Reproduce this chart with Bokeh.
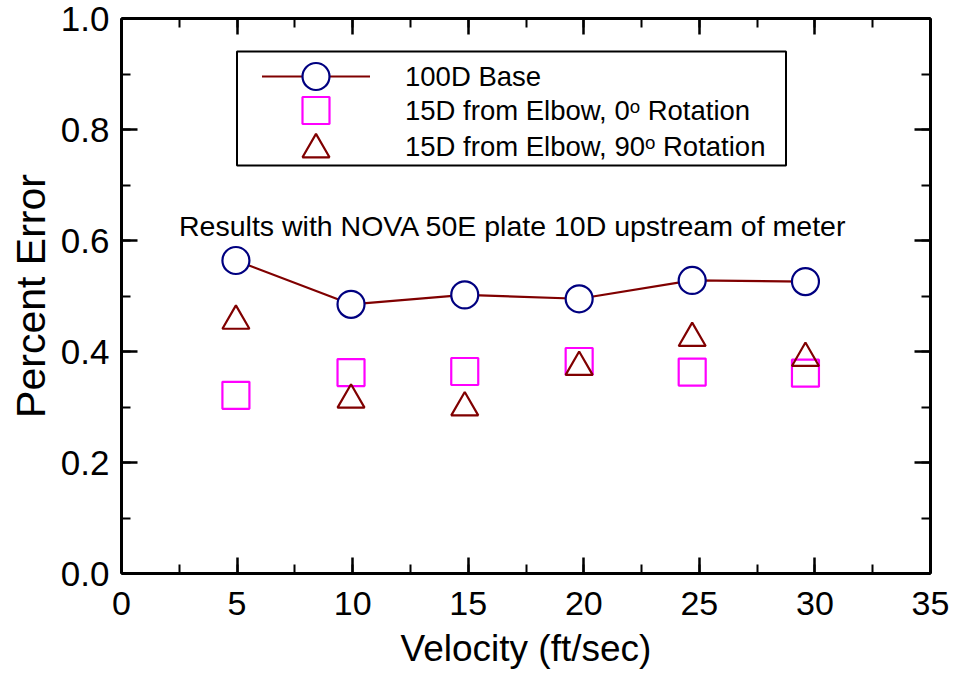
from bokeh.plotting import figure
from bokeh.models import (Range1d, LinearAxis, SingleIntervalTicker,
                          NumeralTickFormatter, CustomJSTickFormatter)
from bokeh.embed import file_html
from bokeh.resources import INLINE
from bokeh.core.properties import value

# ---- data ----
velocity = [4.95, 9.93, 14.85, 19.8, 24.69, 29.59]
base_100d = [0.564, 0.485, 0.502, 0.495, 0.528, 0.526]
elbow_0deg = [0.321, 0.362, 0.364, 0.382, 0.363, 0.361]
elbow_90deg = [0.455, 0.313, 0.299, 0.372, 0.424, 0.388]

series_labels = ["100D Base",
                 "15D from Elbow, 0\u1d52 Rotation",
                 "15D from Elbow, 90\u1d52 Rotation"]
note_text = "Results with NOVA 50E plate 10D upstream of meter"
x_title = "Velocity (ft/sec)"
y_title = "Percent Error"

FONT = "Liberation Sans"
NAVY = "#000080"
MAROON = "#800000"
MAGENTA = "#FF00FF"

FW, FH = 809, 555  # frame size in px

p = figure(width=956, height=681, output_backend="svg", toolbar_location=None,
           x_range=Range1d(0, 35), y_range=Range1d(0, 1),
           x_axis_type=None, y_axis_type=None,
           min_border_left=121, min_border_right=26,
           min_border_top=18, min_border_bottom=108)
p.outline_line_color = None
p.background_fill_color = "white"
p.border_fill_color = "white"
p.extra_x_ranges = {"px": Range1d(0, FW)}
p.extra_y_ranges = {"py": Range1d(FH, 0)}

blank = CustomJSTickFormatter(code="return '';")


def style_axis(ax, show_labels):
    ax.axis_line_width = 3
    ax.axis_line_color = "black"
    ax.major_tick_in = 16
    ax.major_tick_out = 0
    ax.minor_tick_in = 9
    ax.minor_tick_out = 0
    ax.major_tick_line_width = 2.5
    ax.minor_tick_line_width = 2
    ax.major_label_text_font = FONT
    ax.major_label_text_color = "black"
    ax.axis_label_text_font = FONT
    ax.axis_label_text_font_style = "normal"
    ax.axis_label_text_color = "black"
    if not show_labels:
        ax.major_label_standoff = 0


xb = LinearAxis(ticker=SingleIntervalTicker(interval=5, num_minor_ticks=2),
                formatter=NumeralTickFormatter(format="0"))
style_axis(xb, True)
xb.major_label_text_font_size = "34px"
xb.major_label_standoff = 18
xb.axis_label = x_title
xb.axis_label_text_font_size = "37px"
xb.axis_label_standoff = 10
p.add_layout(xb, "below")

xt = LinearAxis(ticker=SingleIntervalTicker(interval=5, num_minor_ticks=2),
                formatter=blank)
style_axis(xt, False)
p.add_layout(xt, "above")

yl = LinearAxis(ticker=SingleIntervalTicker(interval=0.2, num_minor_ticks=2),
                formatter=NumeralTickFormatter(format="0.0"))
style_axis(yl, True)
yl.major_label_text_font_size = "35px"
yl.major_label_standoff = 12
yl.axis_label = y_title
yl.axis_label_text_font_size = "41px"
yl.axis_label_standoff = 4
p.add_layout(yl, "left")

yr = LinearAxis(ticker=SingleIntervalTicker(interval=0.2, num_minor_ticks=2),
                formatter=blank)
style_axis(yr, False)
p.add_layout(yr, "right")

# ---- data marks ----
p.line(velocity, base_100d, line_color=MAROON, line_width=2.2)
p.scatter(velocity, base_100d, marker="circle", size=27, line_color=NAVY,
          line_width=2.2, fill_color="white")
p.scatter(velocity, elbow_0deg, marker="square", size=27, line_color=MAGENTA,
          line_width=2.2, fill_color=None)
p.scatter(velocity, elbow_90deg, marker="triangle", size=27, line_color=MAROON,
          line_width=2.2, fill_color=None)

# ---- legend (frame pixel coordinates) ----
leg_box = dict(left=115.5, right=664.5, top=33, bottom=147)
leg_rows = [58, 92, 128]
leg_glyph_x = 194.5
leg_line = [140.5, 248.5]
leg_text_x = 283.5

p.quad(left=[leg_box["left"]], right=[leg_box["right"]], top=[leg_box["top"]],
       bottom=[leg_box["bottom"]], fill_color="white", line_color="black",
       line_width=2, x_range_name="px", y_range_name="py")
p.line(leg_line, [leg_rows[0], leg_rows[0]], line_color=MAROON, line_width=2.2,
       x_range_name="px", y_range_name="py")
p.scatter([leg_glyph_x], [leg_rows[0]], marker="circle", size=27, line_color=NAVY,
          line_width=2.2, fill_color="white", x_range_name="px", y_range_name="py")
p.scatter([leg_glyph_x], [leg_rows[1]], marker="square", size=27, line_color=MAGENTA,
          line_width=2.2, fill_color=None, x_range_name="px", y_range_name="py")
p.scatter([leg_glyph_x], [leg_rows[2] + 3], marker="triangle", size=27, line_color=MAROON,
          line_width=2.2, fill_color=None, x_range_name="px", y_range_name="py")
p.text([leg_text_x] * 3, leg_rows, text=series_labels,
       text_font=value(FONT), text_font_size=value("27.5px"),
       text_baseline="middle", text_align="left", text_color="black",
       x_range_name="px", y_range_name="py")

# ---- note ----
p.text([391.5], [207], text=[note_text], text_font=value(FONT),
       text_font_size=value("28.5px"), text_baseline="middle", text_align="center",
       text_color="black", x_range_name="px", y_range_name="py")

open("out.html", "w").write(file_html(p, INLINE))
